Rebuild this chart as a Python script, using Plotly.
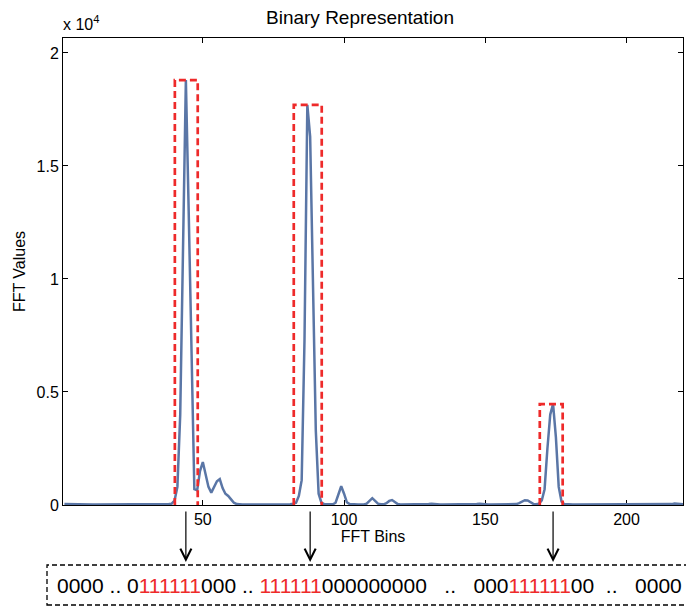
import plotly.graph_objects as go

# ---------------- data ----------------
bins = list(range(1, 221))
fft_values = [
    # 1-10
    40, 35, 30, 30, 25, 25, 20, 20, 20, 20,
    # 11-20
    20, 20, 20, 20, 20, 20, 20, 20, 20, 20,
    # 21-30
    20, 20, 20, 20, 20, 20, 20, 20, 20, 20,
    # 31-40
    20, 20, 20, 20, 25, 25, 30, 40, 60, 200,
    # 41-50
    800, 4000, 11400, 18800, 13000, 7500, 700, 650, 1500, 1900,
    # 51-60
    1400, 800, 550, 800, 1050, 1150, 750, 500, 400, 250,
    # 61-70
    100, 40, 20, 20, 20, 20, 20, 20, 20, 20,
    # 71-80
    20, 20, 20, 20, 20, 20, 20, 20, 20, 20,
    # 81-90
    30, 60, 100, 400, 1100, 7300, 17700, 16300, 10000, 3300,
    # 91-100
    500, 100, 40, 30, 30, 30, 100, 500, 830, 500,
    # 101-110
    120, 40, 25, 25, 25, 25, 25, 60, 180, 300,
    # 111-120
    180, 60, 30, 30, 80, 180, 220, 110, 40, 25,
    # 121-130
    25, 25, 25, 25, 25, 25, 25, 25, 25, 40,
    # 131-140
    60, 40, 25, 25, 25, 25, 25, 25, 25, 25,
    # 141-150
    25, 25, 25, 25, 25, 25, 40, 60, 40, 25,
    # 151-160
    25, 25, 25, 25, 25, 25, 25, 25, 25, 25,
    # 161-170
    40, 80, 150, 210, 200, 120, 50, 30, 60, 200,
    # 171-180
    700, 2500, 4000, 4460, 3000, 800, 150, 40, 25, 25,
    # 181-190
    25, 25, 25, 25, 25, 25, 25, 25, 25, 25,
    # 191-200
    25, 25, 25, 25, 25, 25, 25, 25, 25, 25,
    # 201-210
    25, 25, 25, 25, 25, 25, 25, 25, 25, 25,
    # 211-220
    25, 25, 25, 25, 25, 40, 70, 75, 50, 30,
]

# detection windows (red dashed boxes)
box_left = [40.1, 82.2, 169.3]
box_right = [48.2, 92.1, 177.4]
box_top = [18800, 17700, 4460]

# arrows to the bit string
arrow_bins = [44, 88, 174]

x_ticks = [50, 100, 150, 200]
y_ticks = [0, 5000, 10000, 15000, 20000]
y_ticktext = ["0", "0.5", "1", "1.5", "2"]

bit_segments = [
    ("0000 .. 0", "black"),
    ("111111", "red"),
    ("000 .. ", "black"),
    ("111111", "red"),
    ("000000000   ..   000", "black"),
    ("111111", "red"),
    ("00  ..   0000", "black"),
]

# ---------------- figure ----------------
W, H = 686, 608
ML, MR, MT, MB = 63, 3, 38, 103
PW = W - ML - MR
PH = H - MT - MB

def px_x(p):
    return (p - ML) / PW

def px_y(p):
    return (H - MB - p) / PH

FONT = "Liberation Sans, Arial, Helvetica, sans-serif"
RED = "#ee2a2a"
BLUE = "#5a76a6"
COLORS = {"red": RED, "black": "black"}

fig = go.Figure()

fig.add_trace(go.Scatter(
    x=bins, y=fft_values, mode="lines",
    line=dict(color=BLUE, width=2.5),
    showlegend=False, hoverinfo="skip",
))

for x0, x1, top in zip(box_left, box_right, box_top):
    fig.add_trace(go.Scatter(
        x=[x0, x0, x1, x1], y=[0, top, top, 0], mode="lines",
        line=dict(color=RED, width=2.7, dash="7px,4px"),
        showlegend=False, hoverinfo="skip",
    ))

# arrows below the axis
for b in arrow_bins:
    fig.add_annotation(
        x=b, xref="x", y=px_y(562), yref="paper",
        ax=0, ay=-52, text="", showarrow=True,
        arrowhead=5, arrowsize=1.8, arrowwidth=1.2, arrowcolor="black",
    )

# dashed box containing the bit string
fig.add_shape(
    type="rect", xref="paper", yref="paper",
    x0=px_x(47), x1=px_x(692), y0=px_y(605), y1=px_y(565),
    line=dict(color="black", width=1.3, dash="5px,3px"),
)

bit_text = "".join(
    f'<span style="color:{COLORS[c]}">{s.replace(" ", "\u00a0")}</span>' for s, c in bit_segments
)
fig.add_annotation(
    x=px_x(55), xref="paper", y=px_y(585), yref="paper",
    xanchor="left", yanchor="middle", showarrow=False,
    text=bit_text, font=dict(family=FONT, size=21, color="black"),
)

# exponent label
fig.add_annotation(
    x=px_x(61), xref="paper", y=px_y(35), yref="paper",
    xanchor="left", yanchor="bottom", showarrow=False,
    text="x 10<sup>4</sup>", font=dict(family=FONT, size=16, color="black"),
)

fig.update_layout(
    width=W, height=H,
    margin=dict(l=ML, r=MR, t=MT, b=MB, pad=0),
    paper_bgcolor="white", plot_bgcolor="white",
    font=dict(family=FONT, size=16, color="black"),
    title=dict(
        text="Binary Representation", x=px_x(360), xref="paper", xanchor="center",
        y=1 - 17 / H, yanchor="middle",
        font=dict(family=FONT, size=19, color="black"),
    ),
    xaxis=dict(
        range=[0.5, 220], tickvals=x_ticks, ticks="inside", ticklen=5,
        tickwidth=1, tickcolor="black", showline=True, linecolor="black",
        linewidth=1, mirror="ticks", showgrid=False, zeroline=False,
        layer="below traces", tickfont=dict(size=16),
        title=dict(text="FFT Bins", standoff=1, font=dict(size=16)),
    ),
    yaxis=dict(
        range=[0, 20660], tickvals=y_ticks, ticktext=y_ticktext,
        ticks="inside", ticklen=5, tickwidth=1, tickcolor="black",
        showline=True, linecolor="black", linewidth=1, mirror="ticks",
        showgrid=False, zeroline=False, layer="below traces",
        tickfont=dict(size=16),
        title=dict(text="FFT Values", standoff=6, font=dict(size=16)),
    ),
)

fig.write_html("out.html")
